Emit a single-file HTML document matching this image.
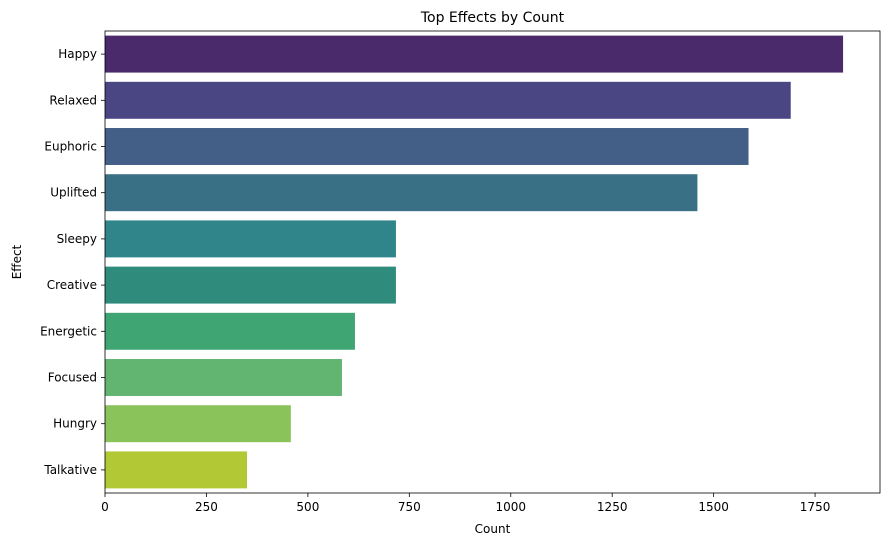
<!DOCTYPE html>
<html><head><meta charset="utf-8"><style>
body{margin:0;background:#fff;}
svg text{font-family:"DejaVu Sans","Liberation Sans",sans-serif;fill:#000;}
</style></head><body>
<svg id="chart" width="890" height="545"></svg>
<script>
const categories=['Happy','Relaxed','Euphoric','Uplifted','Sleepy','Creative','Energetic','Focused','Hungry','Talkative'];
const counts=[1819,1690,1586,1460,717,717,616,584,458,350];
const ticks=[0,250,500,750,1000,1250,1500,1750];
const colors=['#4b2a6b','#4a4683','#445f87','#3a7086','#2f8589','#2f8c7c','#3fa673','#62b570','#89c35a','#b2c935'];
const NS='http://www.w3.org/2000/svg';
const svg=document.getElementById('chart');
const L=105,R=880,T=31,B=493;
const xmax=1910;
const x=v=>L+v/xmax*(R-L);
const band=(B-T)/categories.length;
const y=i=>T+i*band;
function mk(t,a,p){const e=document.createElementNS(NS,t);for(const k in a)e.setAttribute(k,a[k]);(p||svg).appendChild(e);return e;}
categories.forEach((c,i)=>{
  const r=mk('rect',{x:L,y:y(i)+band*0.1,width:x(counts[i])-L,height:band*0.8,fill:colors[i]});
  
  
  mk('line',{x1:L-4,x2:L,y1:y(i)+band/2,y2:y(i)+band/2,stroke:'#000','stroke-width':0.8});
  const t=mk('text',{x:L-8,y:y(i)+band/2+4,'text-anchor':'end','font-size':12});
  t.textContent=c;
  
  
});
ticks.forEach(v=>{
  mk('line',{x1:x(v),x2:x(v),y1:B,y2:B+4,stroke:'#000','stroke-width':0.8});
  const t=mk('text',{x:x(v),y:B+18,'text-anchor':'middle','font-size':12});
  t.textContent=v;
  
  
});
const f=mk('rect',{x:L,y:T,width:R-L,height:B-T,fill:'none',stroke:'#000','stroke-width':0.8});


const tt=mk('text',{x:(L+R)/2,y:22,'text-anchor':'middle','font-size':14});
tt.textContent='Top Effects by Count';


const xl=mk('text',{x:(L+R)/2,y:533,'text-anchor':'middle','font-size':12});
xl.textContent='Count';


const yl=mk('text',{x:21,y:(T+B)/2,'text-anchor':'middle','font-size':12,transform:'rotate(-90 21 '+((T+B)/2)+')'});
yl.textContent='Effect';


</script>
</body></html>
